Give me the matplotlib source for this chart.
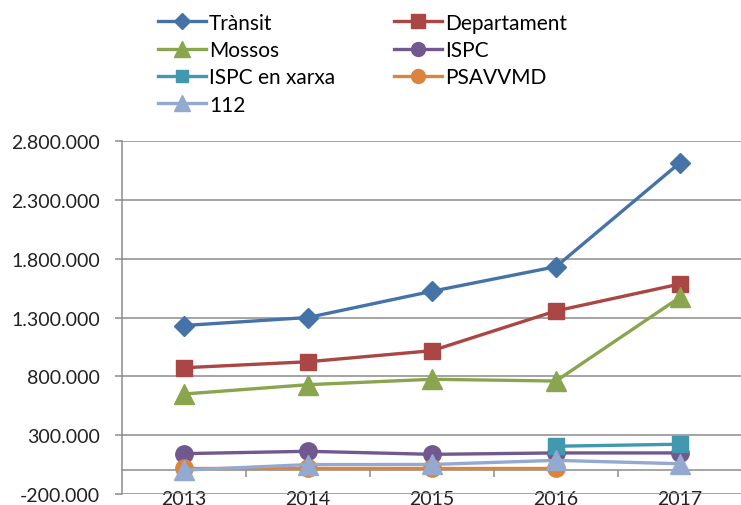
import numpy as np
import matplotlib
matplotlib.use("Agg")
import matplotlib.pyplot as plt
from matplotlib.ticker import FuncFormatter, FixedLocator

years = ["2013", "2014", "2015", "2016", "2017"]

transit = [1232000, 1300000, 1523000, 1732000, 2616000]
departament = [873000, 924000, 1018000, 1356000, 1585000]
mossos = [650000, 729000, 775000, 760000, 1472000]
ispc = [143000, 163000, 137000, 149000, 149000]
ispc_xarxa = [np.nan, np.nan, np.nan, 206000, 223000]
psavvmd = [20000, 20000, 20000, 20000, np.nan]
n112 = [3000, 50000, 51000, 86000, 57000]

yticks = [-200000, 300000, 800000, 1300000, 1800000, 2300000, 2800000]

series = [
    ("Trànsit", transit, "#4572A7", "D", 10),
    ("Departament", departament, "#AA4643", "s", 12),
    ("Mossos", mossos, "#89A54E", "^", 14),
    ("ISPC", ispc, "#71588F", "o", 12.5),
    ("ISPC en xarxa", ispc_xarxa, "#4198AF", "s", 11),
    ("PSAVVMD", psavvmd, "#DB843D", "o", 12.5),
    ("112", n112, "#93A9CF", "^", 14),
]

plt.rcParams["font.family"] = ["Lato", "DejaVu Sans"]

fig = plt.figure(figsize=(7.41, 5.06), dpi=100)
ax = fig.add_axes([122 / 741, 11 / 506, 620 / 741, 353 / 506])

x = np.arange(len(years))
handles = {}
for name, vals, color, mk, ms in series:
    (h,) = ax.plot(x, vals, color=color, marker=mk, markersize=ms, linewidth=2.4,
                   markeredgecolor=color, label=name, clip_on=False, zorder=3)
    handles[name] = h

ax.set_xlim(-0.5, 4.5)
ax.set_ylim(-200000, 2800000)
ax.yaxis.set_major_locator(FixedLocator(yticks))
ax.yaxis.set_major_formatter(FuncFormatter(lambda v, p: f"{int(v):,}".replace(",", ".")))
ax.grid(axis="y", color="#8c8c8c", linewidth=1.1)
ax.set_axisbelow(True)

for s in ["top", "right"]:
    ax.spines[s].set_visible(False)
ax.spines["left"].set_color("#8c8c8c")
ax.spines["left"].set_linewidth(1.1)
ax.spines["bottom"].set_position(("data", 0))
ax.spines["bottom"].set_color("#8c8c8c")
ax.spines["bottom"].set_linewidth(1.1)

ax.set_xticks(x)
ax.set_xticklabels(years)
ax.set_xticks([0.5, 1.5, 2.5, 3.5], minor=True)
ax.tick_params(axis="x", which="major", length=0, pad=14, labelsize=14, labelcolor="#222222")
ax.tick_params(axis="x", which="minor", length=5, width=1.1, color="#8c8c8c", direction="out")
ax.tick_params(axis="y", length=5, width=1.1, color="#8c8c8c", pad=11, labelsize=14,
               labelcolor="#222222")

# excel fills the legend row by row, matplotlib column by column
order = ["Trànsit", "Mossos", "ISPC en xarxa", "112", "Departament", "ISPC", "PSAVVMD"]
leg = fig.legend([handles[n] for n in order], order, ncol=2, frameon=False,
                 loc="upper left", bbox_to_anchor=(139 / 741, 1 + 5 / 506),
                 fontsize=15, handlelength=2.3, markerscale=0.8, labelspacing=0.35,
                 columnspacing=2.85, handletextpad=0.15)

fig.savefig("out.png", dpi=100)
